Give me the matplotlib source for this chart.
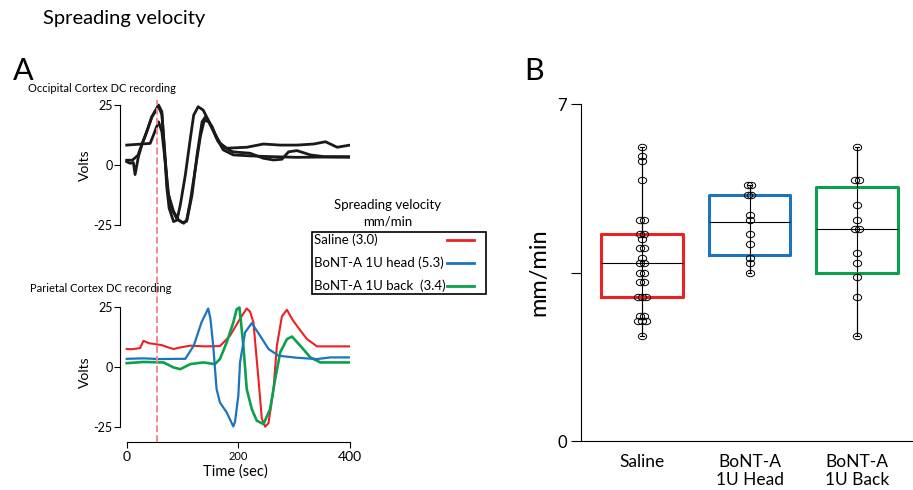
import numpy as np
import matplotlib
matplotlib.use("Agg")
import matplotlib.pyplot as plt
from matplotlib.path import Path
from matplotlib.lines import Line2D
from matplotlib.patches import Rectangle

plt.rcParams['font.family'] = ['Lato', 'DejaVu Sans']

# ---------------- panel A : DC recordings (sec, volts) ----------------
occ1_t = [0, 6, 12, 15, 21, 27, 36, 45, 57, 63, 67, 72, 76, 84, 90, 96, 105, 114, 120, 128, 137,
          149, 161, 173, 191, 221, 257, 305, 350, 400]
occ1_v = [1.4, 0.7, 1.0, -4.0, 3.5, 8.3, 13.9, 20.1, 25.0, 22.2, 8.3, -9.7, -18.0, -23.6, -23.0,
          -16.7, -4.2, 11.1, 20.8, 24.3, 22.9, 17.4, 11.1, 6.3, 4.2, 3.8, 3.5, 3.2, 3.3, 3.2]

occ2_t = [0, 18, 42, 48, 57, 63, 69, 75, 84, 93, 102, 108, 117, 126, 135, 141, 153, 164, 179, 215,
          245, 275, 305, 335, 356, 377, 400]
occ2_v = [8.3, 8.6, 9.0, 12.5, 18.0, 13.9, 1.4, -12.5, -19.4, -23.0, -24.3, -23.0, -12.5, 4.2, 18.0,
          20.1, 16.0, 9.7, 7.0, 7.4, 8.75, 8.3, 8.3, 8.75, 9.7, 7.4, 8.3]

occ3_t = [0, 10, 20, 27, 36, 45, 57, 63, 68, 73, 80, 90, 100, 107, 114, 124, 132, 139, 147, 158, 170,
          190, 221, 245, 263, 278, 290, 305, 329, 353, 400]
occ3_v = [2.0, 2.0, 4.0, 8.5, 14.0, 20.0, 24.5, 21.0, 6.0, -10.0, -18.0, -22.5, -24.0, -23.5, -15.0,
          0.0, 12.0, 18.7, 18.0, 13.0, 8.0, 5.5, 4.9, 2.8, 2.1, 2.4, 5.5, 6.0, 4.2, 3.5, 3.5]

saline_t = [0, 10, 24, 30, 40, 50, 63, 75, 84, 95, 114, 140, 167, 185, 203, 215, 221, 227, 236, 242,
            248, 254, 263, 269, 278, 287, 296, 305, 323, 341, 370, 400]
saline_v = [7.4, 7.3, 7.8, 10.8, 9.8, 9.5, 9.0, 8.0, 7.4, 8.0, 8.8, 8.5, 8.6, 12.9, 20.0, 24.3, 23.0,
            18.5, -5.1, -21.6, -25.0, -23.5, -9.3, 8.75, 21.0, 23.75, 20.0, 17.0, 11.5, 8.5, 8.5, 8.5]

head_t = [0, 30, 60, 90, 105, 120, 134, 146, 150, 155, 161, 167, 179, 191, 194, 200, 203, 212, 224,
          239, 254, 272, 305, 341, 365, 400]
head_v = [3.3, 3.5, 3.2, 3.3, 3.3, 8.75, 18.5, 24.3, 20.0, 8.75, -9.3, -14.9, -19.0, -24.9, -23.0,
          -12.0, 1.8, 14.3, 18.2, 12.9, 7.4, 4.6, 3.75, 3.2, 3.9, 3.9]

back_t = [0, 30, 66, 84, 96, 114, 137, 158, 167, 179, 191, 197, 202, 209, 215, 224, 233, 245, 257,
          266, 275, 287, 296, 311, 329, 347, 400]
back_v = [1.5, 2.0, 1.8, -0.3, -1.0, 1.1, 1.8, 1.1, 3.2, 10.1, 18.5, 24.0, 24.7, 8.75, -9.3, -17.6,
          -22.5, -23.9, -17.6, -5.1, 6.0, 11.5, 12.6, 8.75, 3.9, 1.8, 1.8]

onset_t = 55
legend_labels = ['Saline (3.0)', 'BoNT-A 1U head (5.3)', 'BoNT-A 1U back  (3.4)']

# ---------------- panel B : spreading velocity (mm/min) ----------------
groups = ['Saline', 'BoNT-A\n1U Head', 'BoNT-A\n1U Back']
saline_pts = [6.11, 5.92, 5.81, 5.42, 4.60, 4.60, 4.31, 4.31, 4.20, 4.00, 4.00, 3.80, 3.70, 3.70,
              3.50, 3.50, 3.30, 3.30, 3.00, 3.00, 3.00, 2.59, 2.59, 2.50, 2.50, 2.50, 2.19]
head_pts = [5.31, 5.31, 5.10, 5.10, 4.70, 4.60, 4.31, 4.10, 3.80, 3.70, 3.50]
back_pts = [6.11, 5.42, 5.42, 4.90, 4.60, 4.41, 4.41, 3.91, 3.70, 3.40, 3.00, 2.19]
box_q1 = [3.00, 3.87, 3.48]
box_med = [3.70, 4.55, 4.41]
box_q3 = [4.31, 5.10, 5.28]
box_lo = [2.19, 3.50, 2.19]
box_hi = [6.11, 5.31, 6.11]

red, blue, green = '#ed2024', '#1c75bc', '#0aa14e'
colors = [red, blue, green]

W, H = 913, 490


def fx(x):
    return x / W


def fy(y):
    return 1 - y / H


fig = plt.figure(figsize=(W / 100, H / 100), dpi=100)

# top traces
ax_top = fig.add_axes([fx(120), fy(230), fx(230), 130 / H])
for t, v in [(occ1_t, occ1_v), (occ2_t, occ2_v), (occ3_t, occ3_v)]:
    ax_top.plot(t, v, color='#1a1a1a', lw=2.0, solid_joinstyle='round')
ax_top.set_xlim(-12, 400)
ax_top.set_ylim(-27.1, 27.1)

# bottom traces
ax_bot = fig.add_axes([fx(120), fy(442.3), fx(230), 140.3 / H])
ax_bot.plot(saline_t, saline_v, color=red, lw=1.5)
ax_bot.plot(back_t, back_v, color=green, lw=1.9)
ax_bot.plot(head_t, head_v, color=blue, lw=1.6)
ax_bot.set_xlim(-12, 400)
ax_bot.set_ylim(-31.5, 27)

for ax in (ax_top, ax_bot):
    ax.spines[['top', 'right']].set_visible(False)
    ax.spines['left'].set_bounds(-25, 25)
    ax.set_yticks([-25, 0, 25])
    ax.set_yticklabels(['-25', '0', '25'])
    ax.tick_params(axis='y', labelsize=9, length=4.3, width=0.8, pad=1)
    ax.set_ylabel('Volts', fontsize=10, labelpad=2)
    ax.patch.set_visible(False)

ax_top.spines['bottom'].set_visible(False)
ax_top.set_xticks([])
ax_bot.spines['bottom'].set_bounds(0, 400)
ax_bot.set_xticks([0, 200, 400])
ax_bot.tick_params(axis='x', labelsize=10, length=4, width=0.8, pad=2)
ax_bot.get_xticklabels()[1].set_fontsize(8)
ax_bot.set_xlabel('Time (sec)', fontsize=10.5, labelpad=1)

# dashed onset line across both trace panels
ax_line = fig.add_axes([fx(120), fy(442), fx(230), 342 / H])
ax_line.set_xlim(-12, 400)
ax_line.axis('off')
ax_line.axvline(onset_t, color='#f28b8b', lw=1.4, ls=(0, (3.5, 1.6)))

fig.text(fx(28), fy(89), 'Occipital Cortex DC recording', fontsize=8, va='center')
fig.text(fx(30), fy(289), 'Parietal Cortex DC recording', fontsize=8, va='center')

# legend
fig.text(fx(388), fy(205), 'Spreading velocity', fontsize=9.5, ha='center', va='center')
fig.text(fx(388), fy(222), 'mm/min', fontsize=9.5, ha='center', va='center')
fig.add_artist(Rectangle((fx(311.5), fy(294.3)), fx(485.7 - 311.5), (294.3 - 232.3) / H,
                         transform=fig.transFigure, fill=False, ec='black', lw=1.2))
for yy, lab, c in zip([240, 262.7, 286], legend_labels, colors):
    fig.text(fx(314), fy(yy), lab, fontsize=9.5, va='center')
    fig.add_artist(Line2D([fx(447), fx(474)], [fy(yy), fy(yy)], color=c, lw=2,
                          transform=fig.transFigure))

# panel B
ax_b = fig.add_axes([fx(581), fy(441), 1 - fx(581), 337 / H])
positions = [1, 2, 3]
stats = []
for i in range(3):
    stats.append(dict(med=box_med[i], q1=box_q1[i], q3=box_q3[i],
                      whislo=box_lo[i], whishi=box_hi[i], fliers=[]))
ax_b.vlines(positions, box_lo, box_hi, color='black', lw=0.8, zorder=1)
bp = ax_b.bxp(stats, positions=positions, widths=0.76, showcaps=True, capwidths=0.035,
              manage_ticks=False,
              whiskerprops=dict(color='black', lw=0.8),
              capprops=dict(color='black', lw=0.8),
              medianprops=dict(color='black', lw=0.8))
for box, c in zip(bp['boxes'], colors):
    box.set_color(c)
    box.set_linewidth(2.2)

circ = Path.unit_circle()
ellipse = Path(circ.vertices * np.array([1.3, 1.0]), circ.codes)
for pos, pts in zip(positions, [saline_pts, head_pts, back_pts]):
    pts = np.array(pts)
    xs = np.zeros(len(pts))
    for val in np.unique(pts):
        idx = np.where(pts == val)[0]
        n = len(idx)
        xs[idx] = (np.arange(n) - (n - 1) / 2) * 0.035
    ax_b.plot(pos + xs, pts, ls='none', marker=ellipse, ms=6, mfc='none', mec='black',
              mew=0.7, zorder=3)

ax_b.set_xlim(0.433, 3.52)
ax_b.set_ylim(0, 7)
ax_b.spines[['top', 'right']].set_visible(False)
ax_b.spines['left'].set_linewidth(0.8)
ax_b.spines['bottom'].set_linewidth(0.8)
ax_b.set_yticks([0, 3.5, 7])
ax_b.set_yticklabels(['0', '', '7'])
ax_b.tick_params(axis='y', labelsize=12, length=7, width=0.8, pad=3)
ax_b.set_xticks(positions)
ax_b.set_xticklabels(groups)
ax_b.tick_params(axis='x', labelsize=12.5, length=0, pad=9)
ax_b.set_ylabel('mm/min', fontsize=17, labelpad=6)
ax_b.patch.set_visible(False)

fig.text(fx(43), fy(24), 'Spreading velocity', fontsize=14.5, va='baseline')
fig.text(fx(13), fy(80), 'A', fontsize=22, va='baseline')
fig.text(fx(524), fy(80), 'B', fontsize=22, va='baseline')

fig.savefig('out.png', dpi=100)
